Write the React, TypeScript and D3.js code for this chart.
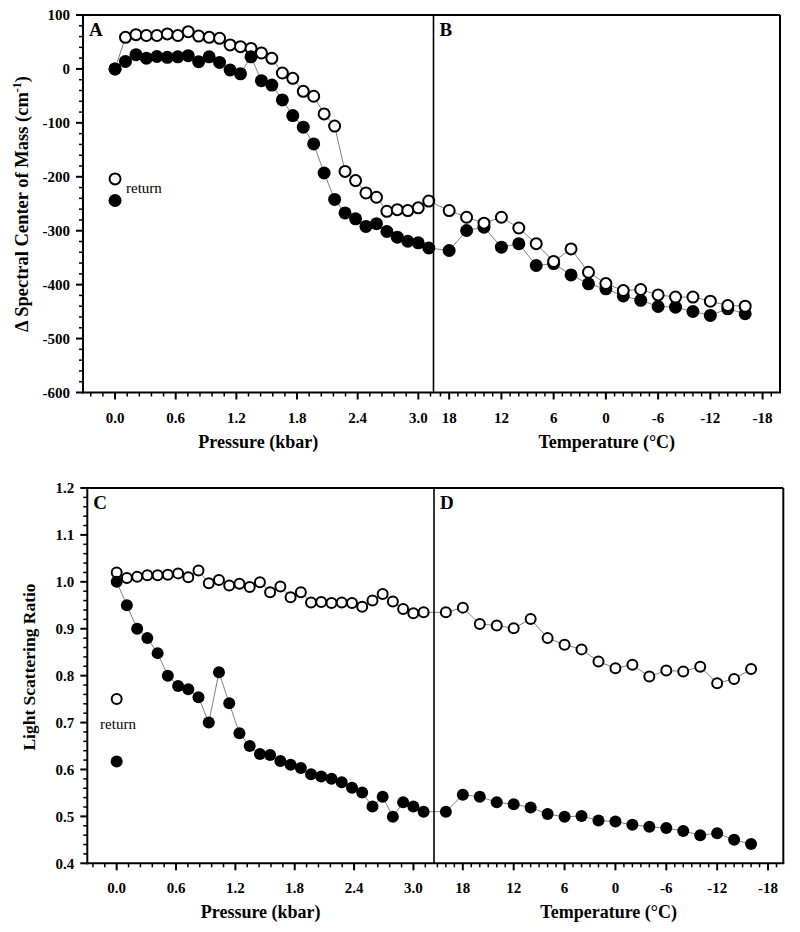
import React from 'react';
import * as d3 from 'd3';

// ---------- data ----------
const pressureKbar = [0, 0.103, 0.207, 0.31, 0.414, 0.517, 0.621, 0.724, 0.827, 0.931, 1.034, 1.138, 1.241, 1.345, 1.448, 1.551, 1.655, 1.758, 1.862, 1.965, 2.068, 2.172, 2.275, 2.379, 2.482, 2.586, 2.689, 2.792, 2.896, 2.999, 3.103];

const shiftFilledA = [0, 14, 26.5, 20, 23, 21.5, 22.5, 24.6, 13.5, 22.5, 12, -2, -9, 22.5, -21.7, -30, -57.5, -86.5, -108, -139, -193, -242, -267, -278, -292, -287, -301.5, -312, -319.5, -322.5, -332];
const shiftOpenA = [0, 58.6, 63.6, 62, 62, 65, 62, 69, 61, 58.6, 56.8, 44.5, 41.3, 38, 29.6, 19.7, -7.5, -17.4, -41.5, -50.7, -83.4, -106, -190, -207, -230, -238, -264, -261, -262.6, -257.6, -245];

const tempB = [18, 16, 14, 12, 10, 8, 6, 4, 2, 0, -2, -4, -6, -8, -10, -12, -14, -16];
const shiftOpenB = [-262.6, -275, -286, -275, -295, -324, -357, -333.7, -377, -398, -411, -409, -419, -423, -423, -430.7, -438.7, -440];
const shiftFilledB = [-336.7, -299.6, -293.5, -330.6, -324, -364.5, -361, -382, -398.5, -407.7, -421, -429, -440.5, -441.8, -449.8, -457, -444.8, -454];

const returnShiftOpen = [-204];
const returnShiftFilled = [-244];

const lsOpenC = [1.02, 1.008, 1.011, 1.014, 1.014, 1.015, 1.018, 1.01, 1.024, 0.997, 1.004, 0.992, 0.996, 0.989, 0.999, 0.978, 0.99, 0.967, 0.978, 0.956, 0.957, 0.955, 0.956, 0.955, 0.947, 0.96, 0.974, 0.958, 0.942, 0.933, 0.935];
const lsFilledC = [1.0, 0.95, 0.9, 0.88, 0.848, 0.8, 0.778, 0.771, 0.754, 0.7, 0.807, 0.741, 0.677, 0.65, 0.633, 0.631, 0.618, 0.61, 0.603, 0.59, 0.585, 0.58, 0.573, 0.561, 0.551, 0.521, 0.542, 0.499, 0.53, 0.521, 0.51];

const tempD = [20, 18, 16, 14, 12, 10, 8, 6, 4, 2, 0, -2, -4, -6, -8, -10, -12, -14, -16];
const lsOpenD = [0.935, 0.945, 0.91, 0.907, 0.901, 0.921, 0.88, 0.866, 0.856, 0.83, 0.816, 0.823, 0.798, 0.811, 0.809, 0.819, 0.784, 0.793, 0.814];
const lsFilledD = [0.51, 0.546, 0.542, 0.53, 0.526, 0.519, 0.505, 0.499, 0.501, 0.491, 0.489, 0.482, 0.478, 0.475, 0.469, 0.46, 0.464, 0.45, 0.441];

const returnLsOpen = [0.75];
const returnLsFilled = [0.617];

const pressureTicks = [0, 0.6, 1.2, 1.8, 2.4, 3.0];
const tempTicks = [18, 12, 6, 0, -6, -12, -18];
const shiftTicks = [100, 0, -100, -200, -300, -400, -500, -600];
const lsTicks = [1.2, 1.1, 1.0, 0.9, 0.8, 0.7, 0.6, 0.5, 0.4];

const FONT = '"Liberation Serif", "Times New Roman", serif';

type PanelProps = {
  frame: { left: number; mid: number; right: number; top: number; bottom: number };
  pDomain: [number, number];
  tDomain: [number, number];
  yDomain: [number, number];
  yTicks: number[];
  yMinorStep: number;
  yFmt: (v: number) => string;
  pOpen: number[];
  pFilled: number[];
  tVals: number[];
  tOpen: number[];
  tFilled: number[];
  retOpen: number[];
  retFilled: number[];
  rOpen: number;
  rFilled: number;
  letters: [string, string];
  yTitle: React.ReactNode;
  yTitleSize: number;
  yTitleX: number;
  yTitleY: number;
  legendText: { x: number; y: number; anchor: string };
};

function Panel(props: PanelProps) {
  const { frame, pDomain, tDomain, yDomain, yTicks, yMinorStep, yFmt } = props;
  const xP = d3.scaleLinear().domain(pDomain).range([frame.left, frame.mid]);
  const xT = d3.scaleLinear().domain(tDomain).range([frame.mid, frame.right]);
  const y = d3.scaleLinear().domain(yDomain).range([frame.bottom, frame.top]);

  const pMinor = d3.range(Math.ceil(pDomain[0] / 0.12) * 0.12, pDomain[1], 0.12)
    .filter(v => Math.abs(v / 0.6 - Math.round(v / 0.6)) > 1e-6);
  const tMinor = d3.range(Math.floor(tDomain[0]), tDomain[1], -1)
    .filter(v => v % 6 !== 0);
  const yMinor = d3.range(yDomain[0], yDomain[1] + 1e-9, yMinorStep)
    .filter(v => !yTicks.some(t => Math.abs(t - v) < 1e-6));

  const lineP = d3.line<number>().x((_, i) => xP(pressureKbar[i])).y(d => y(d));
  const lineT = d3.line<number>().x((_, i) => xT(props.tVals[i])).y(d => y(d));

  const lineColor = '#808080';
  const nP = pressureKbar.length - 1;

  const openCircle = (cx: number, cy: number, k: string) => (
    <circle key={k} cx={cx} cy={cy} r={props.rOpen} fill="#fff" stroke="#000" strokeWidth={2} />
  );
  const filledCircle = (cx: number, cy: number, k: string) => (
    <circle key={k} cx={cx} cy={cy} r={props.rFilled} fill="#000" />
  );

  return (
    <g>
      <path d={lineP(props.pOpen) || ''} fill="none" stroke={lineColor} strokeWidth={1} />
      <path d={lineP(props.pFilled) || ''} fill="none" stroke={lineColor} strokeWidth={1} />
      <path d={lineT(props.tOpen) || ''} fill="none" stroke={lineColor} strokeWidth={1} />
      <path d={lineT(props.tFilled) || ''} fill="none" stroke={lineColor} strokeWidth={1} />
      <line x1={xP(pressureKbar[nP])} y1={y(props.pOpen[nP])} x2={xT(props.tVals[0])} y2={y(props.tOpen[0])} stroke={lineColor} strokeWidth={1} />
      <line x1={xP(pressureKbar[nP])} y1={y(props.pFilled[nP])} x2={xT(props.tVals[0])} y2={y(props.tFilled[0])} stroke={lineColor} strokeWidth={1} />

      {props.pOpen.map((v, i) => openCircle(xP(pressureKbar[i]), y(v), 'po' + i))}
      {props.pFilled.map((v, i) => filledCircle(xP(pressureKbar[i]), y(v), 'pf' + i))}
      {props.tFilled.map((v, i) => filledCircle(xT(props.tVals[i]), y(v), 'tf' + i))}
      {props.tOpen.map((v, i) => openCircle(xT(props.tVals[i]), y(v), 'to' + i))}

      {props.retOpen.map((v, i) => openCircle(xP(0), y(v), 'ro' + i))}
      {props.retFilled.map((v, i) => filledCircle(xP(0), y(v), 'rf' + i))}
      <text x={props.legendText.x} y={props.legendText.y} textAnchor={props.legendText.anchor as any}
        fontFamily={FONT} fontSize={15} fill="#000">return</text>

      <line x1={frame.left} y1={frame.top} x2={frame.right} y2={frame.top} stroke="#000" strokeWidth={2} />
      <line x1={frame.right} y1={frame.top} x2={frame.right} y2={frame.bottom} stroke="#000" strokeWidth={2} />
      <line x1={frame.mid} y1={frame.top} x2={frame.mid} y2={frame.bottom} stroke="#000" strokeWidth={1.6} />
      <line x1={frame.left} y1={frame.top - 1} x2={frame.left} y2={frame.bottom + 1} stroke="#000" strokeWidth={2} />
      <line x1={frame.left - 1} y1={frame.bottom} x2={frame.right + 1} y2={frame.bottom} stroke="#000" strokeWidth={2} />

      {yTicks.map(t => (
        <g key={'yt' + t}>
          <line x1={frame.left - 7} x2={frame.left} y1={y(t)} y2={y(t)} stroke="#000" strokeWidth={2} />
          <text x={frame.left - 13} y={y(t)} dy="0.35em" textAnchor="end" fontFamily={FONT} fontWeight="bold" fontSize={15}>{yFmt(t)}</text>
        </g>
      ))}
      {yMinor.map(t => (
        <line key={'ym' + t} x1={frame.left - 4} x2={frame.left} y1={y(t)} y2={y(t)} stroke="#000" strokeWidth={1.5} />
      ))}

      {pressureTicks.map(t => (
        <g key={'pt' + t}>
          <line x1={xP(t)} x2={xP(t)} y1={frame.bottom} y2={frame.bottom + 7} stroke="#000" strokeWidth={2} />
          <text x={xP(t)} y={frame.bottom + 30} textAnchor="middle" fontFamily={FONT} fontWeight="bold" fontSize={15}>{t.toFixed(1)}</text>
        </g>
      ))}
      {pMinor.map(t => (
        <line key={'pm' + t} x1={xP(t)} x2={xP(t)} y1={frame.bottom} y2={frame.bottom + 4} stroke="#000" strokeWidth={1.5} />
      ))}
      {tempTicks.map(t => (
        <g key={'tt' + t}>
          <line x1={xT(t)} x2={xT(t)} y1={frame.bottom} y2={frame.bottom + 7} stroke="#000" strokeWidth={2} />
          <text x={xT(t)} y={frame.bottom + 30} textAnchor="middle" fontFamily={FONT} fontWeight="bold" fontSize={15}>{String(t)}</text>
        </g>
      ))}
      {tMinor.map(t => (
        <line key={'tm' + t} x1={xT(t)} x2={xT(t)} y1={frame.bottom} y2={frame.bottom + 4} stroke="#000" strokeWidth={1.5} />
      ))}

      <text x={(frame.left + frame.mid) / 2} y={frame.bottom + 55} textAnchor="middle" fontFamily={FONT} fontWeight="bold" fontSize={18}>Pressure (kbar)</text>
      <text x={(frame.mid + frame.right) / 2} y={frame.bottom + 55} textAnchor="middle" fontFamily={FONT} fontWeight="bold" fontSize={18}>Temperature (°C)</text>
      <text transform={`translate(${props.yTitleX},${props.yTitleY}) rotate(-90)`} textAnchor="middle" fontFamily={FONT} fontWeight="bold" fontSize={props.yTitleSize}>{props.yTitle}</text>

      <text x={frame.left + 6} y={frame.top + 21} fontFamily={FONT} fontWeight="bold" fontSize={19}>{props.letters[0]}</text>
      <text x={frame.mid + 6} y={frame.top + 21} fontFamily={FONT} fontWeight="bold" fontSize={19}>{props.letters[1]}</text>
    </g>
  );
}

export default function App() {
  return (
    <svg width={800} height={932} style={{ position: 'absolute', left: 0, top: 0, background: '#fff' }}>
      <rect x={0} y={0} width={800} height={932} fill="#fff" />
      <Panel
        frame={{ left: 83, mid: 433.5, right: 780, top: 15, bottom: 392.5 }}
        pDomain={[-0.317, 3.15]}
        tDomain={[19.8, -20]}
        yDomain={[-600, 100]}
        yTicks={shiftTicks}
        yMinorStep={20}
        yFmt={v => String(v)}
        pOpen={shiftOpenA}
        pFilled={shiftFilledA}
        tVals={tempB}
        tOpen={shiftOpenB}
        tFilled={shiftFilledB}
        retOpen={returnShiftOpen}
        retFilled={returnShiftFilled}
        rOpen={5.5}
        rFilled={6.5}
        letters={['A', 'B']}
        yTitle={<>Δ Spectral Center of Mass (cm<tspan dy={-7} fontSize={12}>-1</tspan><tspan dy={7}>)</tspan></>}
        yTitleSize={18.5}
        yTitleX={28}
        yTitleY={204}
        legendText={{ x: 126, y: 193, anchor: 'start' }}
      />
      <Panel
        frame={{ left: 87.3, mid: 434, right: 783.3, top: 488, bottom: 863.3 }}
        pDomain={[-0.297, 3.208]}
        tDomain={[21.4, -19.8]}
        yDomain={[0.4, 1.2]}
        yTicks={lsTicks}
        yMinorStep={0.02}
        yFmt={v => v.toFixed(1)}
        pOpen={lsOpenC}
        pFilled={lsFilledC}
        tVals={tempD}
        tOpen={lsOpenD}
        tFilled={lsFilledD}
        retOpen={returnLsOpen}
        retFilled={returnLsFilled}
        rOpen={5}
        rFilled={6}
        letters={['C', 'D']}
        yTitle={<>Light Scattering Ratio</>}
        yTitleSize={17.5}
        yTitleX={35}
        yTitleY={667}
        legendText={{ x: 118, y: 729, anchor: 'middle' }}
      />
    </svg>
  );
}
